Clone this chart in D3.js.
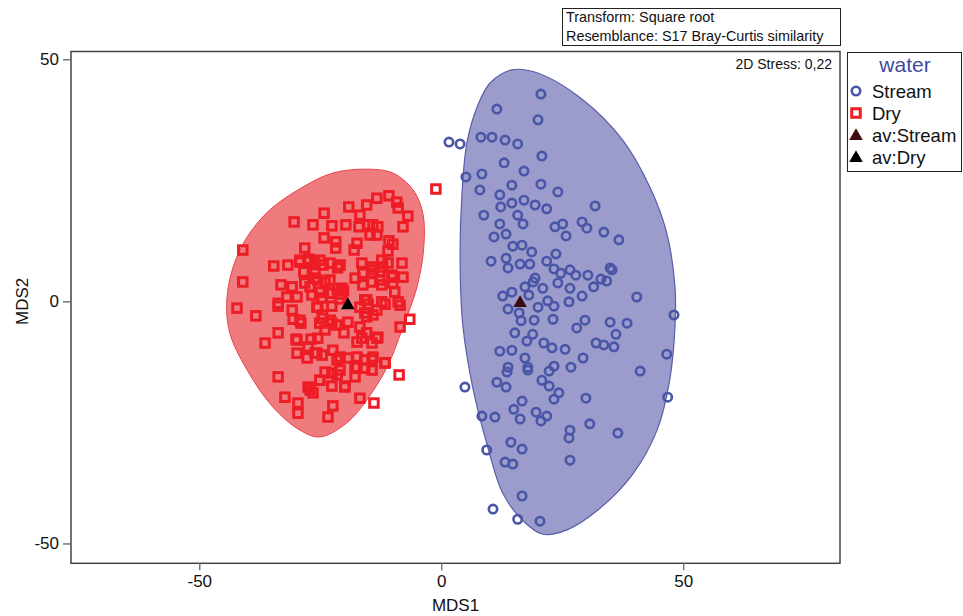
<!DOCTYPE html>
<html>
<head>
<meta charset="utf-8">
<script src="https://cdn.jsdelivr.net/npm/d3@7"></script>
<style>
  body { margin: 0; background: #fff; }
  svg { font-family: Arial, "Liberation Sans", sans-serif; }
</style>
</head>
<body>
<svg id="chart" width="963" height="616"></svg>
<script>
// MDS ordination, water groups
const streamPoints = [
  [20.6,42.8],[11.5,39.7],[20.0,37.5],[1.6,32.9],[3.9,32.5],[8.2,33.9],[10.5,33.9],[13.2,33.3],[15.8,32.5],
  [20.8,30.0],[13.0,28.6],[17.1,26.9],[5.1,25.7],[8.4,26.3],[14.6,24.0],[20.6,24.2],[24.1,22.6],[8.0,23.0],
  [12.1,22.0],[12.3,19.5],[14.6,20.3],[17.1,20.9],[19.4,19.9],[21.8,19.1],[31.8,19.7],[8.8,17.8],[15.8,17.8],
  [12.1,16.0],[16.9,16.0],[23.5,15.4],[25.1,16.0],[29.1,16.4],[30.1,15.1],[33.6,14.3],[10.9,13.3],[13.4,13.9],
  [25.8,13.5],[36.7,12.7],[14.8,11.4],[16.7,11.6],[18.7,10.2],[10.3,8.3],[13.4,8.9],[13.8,6.9],[16.3,7.7],
  [18.3,7.7],[21.8,8.3],[23.7,9.8],[23.3,6.7],[24.7,5.8],[26.6,6.5],[27.8,5.4],[30.3,5.4],[33.0,4.6],[34.2,4.2],
  [34.9,6.9],[35.3,6.5],[19.4,4.8],[24.1,3.8],[17.3,3.0],[21.0,2.7],[26.6,2.7],[31.5,3.0],[12.7,1.1],[14.6,1.9],
  [18.1,1.3],[22.0,0.1],[23.3,-1.0],[20.0,-1.2],[26.4,-0.1],[29.1,1.1],[40.4,0.9],[13.8,-1.6],[16.1,-2.4],
  [23.1,-3.7],[48.1,-2.8],[28.0,-5.5],[29.7,-3.9],[34.9,-4.3],[38.4,-4.5],[15.2,-6.5],[18.9,-6.8],[36.1,-6.8],
  [17.7,-8.2],[21.2,-8.6],[22.9,-9.6],[25.6,-9.9],[32.0,-8.6],[33.6,-9.0],[35.7,-9.4],[12.1,-10.3],[14.6,-10.1],
  [17.3,-11.7],[29.3,-11.7],[46.6,-10.9],[13.8,-13.6],[17.9,-13.6],[23.3,-13.4],[26.8,-13.6],[41.1,-14.4],
  [13.6,-14.6],[22.3,-14.4],[17.9,-14.2],[4.9,-17.7],[11.5,-16.7],[13.4,-17.7],[20.8,-16.3],[22.3,-17.5],
  [24.3,-18.9],[23.3,-20.2],[29.9,-20.0],[46.8,-19.8],[16.7,-20.6],[15.0,-22.3],[8.4,-23.7],[11.1,-23.9],
  [16.3,-24.3],[19.6,-22.9],[20.6,-24.7],[21.8,-23.7],[30.7,-25.3],[36.5,-27.2],[26.6,-26.6],[26.4,-28.2],
  [14.4,-29.1],[16.7,-30.5],[9.4,-30.7],[13.2,-33.2],[14.8,-33.6],[26.6,-32.8],[16.7,-40.2],[10.7,-42.9],
  [15.8,-45.0],[20.4,-45.4],[19.2,-3.9],[16.5,-4.0],[19.0,4.0]
];

const dryPoints = [
  [-41.0,10.6],[-41.0,4.0],[-30.4,16.4],[-26.5,15.8],[-24.2,18.2],[-22.6,15.6],[-24.2,13.1],[-21.8,12.3],
  [-21.8,11.0],[-28.2,11.0],[-19.1,19.5],[-19.7,15.8],[-16.8,17.8],[-17.0,15.4],[-15.4,19.9],[-13.3,21.3],
  [-10.8,21.8],[-9.2,20.5],[-8.9,19.3],[-6.9,17.6],[-7.9,15.4],[-15.1,15.8],[-14.1,15.8],[-13.1,15.4],
  [-14.7,13.7],[-13.3,13.7],[-17.4,12.0],[-18.0,10.6],[-10.8,12.5],[-10.0,11.8],[-11.0,10.4],[-34.6,7.3],
  [-31.7,7.5],[-29.2,8.1],[-27.5,8.3],[-26.1,7.9],[-24.4,7.5],[-23.0,7.9],[-20.9,7.5],[-28.4,6.1],[-26.1,5.8],
  [-16.4,7.9],[-14.3,7.1],[-12.3,8.5],[-11.0,7.9],[-8.1,7.9],[-7.9,5.0],[-10.2,5.4],[-12.7,6.1],[-14.3,5.8],
  [-16.2,5.8],[-17.8,4.8],[-33.1,3.4],[-30.8,3.0],[-28.2,3.8],[-26.1,4.8],[-24.0,4.0],[-20.5,2.7],[-22.6,1.7],
  [-16.2,3.4],[-14.3,4.0],[-12.3,3.4],[-10.0,3.8],[-9.6,1.9],[-31.9,0.9],[-29.8,0.9],[-26.7,1.3],[-24.6,0.7],
  [-33.7,-0.4],[-15.8,0.3],[-12.3,-0.1],[-8.9,-0.1],[-42.2,-1.4],[-38.3,-3.0],[-33.7,-1.0],[-30.8,-1.8],
  [-30.6,-3.7],[-29.0,-4.5],[-25.5,-1.2],[-22.6,-1.0],[-24.6,-3.5],[-22.6,-4.5],[-24.0,-5.9],[-26.9,-7.8],
  [-25.5,-7.6],[-33.7,-6.5],[-36.4,-8.6],[-30.0,-7.8],[-20.1,-6.5],[-19.3,-4.3],[-15.8,-2.4],[-14.1,-2.8],
  [-15.1,-0.6],[-11.6,-0.6],[-8.5,-0.8],[-6.5,-3.7],[-8.5,-5.3],[-16.8,-5.3],[-16.4,-7.6],[-14.3,-8.6],
  [-13.1,-7.4],[-29.8,-10.7],[-27.7,-11.7],[-26.1,-10.7],[-24.6,-11.1],[-22.4,-10.1],[-21.5,-12.1],[-19.3,-11.7],
  [-17.4,-11.5],[-15.8,-12.1],[-14.1,-11.5],[-11.6,-12.7],[-17.8,-13.6],[-15.8,-13.8],[-14.3,-14.2],[-20.9,-14.2],
  [-24.0,-14.6],[-8.7,-15.2],[-33.7,-15.6],[-25.1,-16.3],[-21.5,-15.2],[-17.8,-15.6],[-27.5,-17.7],[-26.5,-18.9],
  [-22.6,-17.5],[-19.9,-17.5],[-32.3,-19.8],[-29.6,-21.0],[-29.6,-23.1],[-22.4,-21.6],[-23.4,-23.9],[-16.8,-20.0],
  [-13.9,-21.0],[-1.1,23.2],
  [-29.2,8.5],[-27.3,8.7],[-25.1,8.5],[-21.4,6.9],[-23.0,4.4],[-25.5,4.4],[-27.1,3.0],[-25.1,1.9],[-23.0,1.7],
  [-25.7,-1.2],[-24.5,-2.8],[-22.9,-3.9],[-25.1,-4.5],[-21.6,-4.9],[-29.2,-3.9],[-29.8,-8.0],[-27.5,-9.4],
  [-25.7,-10.7],[-17.4,-8.4],[-15.4,-6.5],[-13.3,-7.6],[-15.4,-3.2],[-16.8,-1.2],[-13.3,-1.8],[-15.4,0.3],
  [-14.1,6.5],[-12.1,7.1],[-12.7,4.4],[-10.0,5.0],[-20.9,-11.5],[-17.4,-13.6],[-14.3,-12.1],[-11.6,-12.7],
  [-22.6,-14.8],[-19.9,-17.7],[-25.1,-16.3],[-27.1,-18.3],[-21.5,2.5],[-20.5,1.5],[-21.0,0.5],[-20.2,2.2]
];

// group averages
const averages = [
  { name: "av:Stream", x: 16.3, y: -0.35, color: "#3d0c10" },
  { name: "av:Dry", x: -19.3, y: -0.8, color: "#000000" }
];

// outlines of the group overlays (data units)
const streamOutline = [
  [14.6,47.8],[19.8,47.2],[29.3,41.6],[37.5,33.3],[43.1,23.6],[46.6,14.1],[48.3,3.0],[48.3,-5.3],[47.2,-16.3],
  [44.6,-26.6],[39.5,-35.8],[32.5,-43.0],[26.0,-47.2],[21.0,-48.1],[16.8,-45.2],[12.7,-39.6],[9.4,-29.3],
  [6.5,-17.7],[4.5,-5.3],[3.9,8.5],[4.3,22.4],[5.3,32.7],[7.4,40.1],[10.1,45.1]
];
const dryOutline = [
  [-15.4,27.3],[-10.0,26.5],[-5.8,23.0],[-3.8,18.2],[-3.6,11.2],[-5.0,3.0],[-7.9,-5.3],[-11.2,-13.6],
  [-15.4,-20.4],[-19.5,-25.1],[-25.1,-28.0],[-29.2,-26.6],[-34.8,-21.8],[-40.1,-14.2],[-43.7,-6.5],
  [-44.3,0.3],[-43.0,7.1],[-40.1,13.3],[-35.4,18.9],[-28.6,23.6],[-22.4,26.5]
];

const xTicks = [-50, 0, 50];
const yTicks = [-50, 0, 50];
const legendItems = ["Stream", "Dry", "av:Stream", "av:Dry"];
const headerLines = ["Transform: Square root", "Resemblance: S17 Bray-Curtis similarity"];
const stressLabel = "2D Stress: 0,22";

const colors = {
  stream: "#4955a6",
  streamFill: "#9b9bcc",
  streamEdge: "#5a5ea8",
  dry: "#ee1c25",
  dryFill: "#f07b7e",
  dryEdge: "#e8444b"
};

const svg = d3.select("#chart");
const plot = { left: 71, right: 840, top: 51.5, bottom: 563.3 };

const x = d3.scaleLinear().domain([-76.5, 82.4]).range([plot.left, plot.right]);
const y = d3.scaleLinear().domain([-54.1, 51.6]).range([plot.bottom, plot.top]);

// overlays
const outline = d3.line()
  .x(d => x(d[0]))
  .y(d => y(d[1]))
  .curve(d3.curveCatmullRomClosed.alpha(0.5));

svg.append("path")
  .attr("d", outline(dryOutline))
  .attr("fill", colors.dryFill)
  .attr("stroke", colors.dryEdge)
  .attr("stroke-width", 1);

svg.append("path")
  .attr("d", outline(streamOutline))
  .attr("fill", colors.streamFill)
  .attr("stroke", colors.streamEdge)
  .attr("stroke-width", 1.2);

// points
svg.append("g").selectAll("circle")
  .data(streamPoints).enter()
  .append("circle")
  .attr("cx", d => x(d[0]))
  .attr("cy", d => y(d[1]))
  .attr("r", 4.2)
  .attr("fill", "none")
  .attr("stroke", colors.stream)
  .attr("stroke-width", 2.6);

svg.append("g").selectAll("rect")
  .data(dryPoints).enter()
  .append("rect")
  .attr("x", d => x(d[0]) - 4.25)
  .attr("y", d => y(d[1]) - 4.25)
  .attr("width", 8.5)
  .attr("height", 8.5)
  .attr("fill", "none")
  .attr("stroke", colors.dry)
  .attr("stroke-width", 3);

const tri = d3.symbol().type(d3.symbolTriangle).size(80);

svg.append("g").selectAll("path")
  .data(averages).enter()
  .append("path")
  .attr("d", tri)
  .attr("transform", d => `translate(${x(d.x)},${y(d.y)})`)
  .attr("fill", d => d.color);

// frame + axes
svg.append("rect")
  .attr("x", plot.left)
  .attr("y", plot.top)
  .attr("width", plot.right - plot.left)
  .attr("height", plot.bottom - plot.top)
  .attr("fill", "none")
  .attr("stroke", "#444")
  .attr("stroke-width", 1.5);

const xAxis = svg.append("g")
  .attr("transform", `translate(0,${plot.bottom})`)
  .call(d3.axisBottom(x).tickValues(xTicks).tickSize(7).tickPadding(5).tickFormat(d3.format("d")));
const yAxis = svg.append("g")
  .attr("transform", `translate(${plot.left},0)`)
  .call(d3.axisLeft(y).tickValues(yTicks).tickSize(8).tickPadding(4).tickFormat(d3.format("d")));

[xAxis, yAxis].forEach(a => {
  a.select(".domain").remove();
  a.selectAll(".tick line").attr("stroke", "#777").attr("stroke-width", 1.5);
  a.selectAll(".tick text")
    .attr("fill", "#111")
    .style("font-family", "Arial, 'Liberation Sans', sans-serif")
    .style("font-size", "17px");
});
// d3 uses a minus sign, the reference a hyphen
xAxis.selectAll(".tick text").text(d => String(d));
yAxis.selectAll(".tick text").text(d => String(d));

svg.append("text")
  .attr("x", (plot.left + plot.right) / 2)
  .attr("y", 611)
  .attr("text-anchor", "middle")
  .attr("font-size", 17)
  .attr("fill", "#111")
  .text("MDS1");

svg.append("text")
  .attr("transform", `translate(28,${y(0)}) rotate(-90)`)
  .attr("text-anchor", "middle")
  .attr("font-size", 17)
  .attr("fill", "#111")
  .text("MDS2");

svg.append("text")
  .attr("x", 832)
  .attr("y", 69)
  .attr("text-anchor", "end")
  .attr("font-size", 14)
  .attr("fill", "#111")
  .text(stressLabel);

// header box
svg.append("rect")
  .attr("x", 562.5).attr("y", 8.5)
  .attr("width", 278).attr("height", 37)
  .attr("fill", "#fff")
  .attr("stroke", "#222");

svg.append("g").selectAll("text")
  .data(headerLines).enter()
  .append("text")
  .attr("x", 566)
  .attr("y", (d, i) => 22 + i * 18.5)
  .attr("font-size", 14.4)
  .attr("fill", "#111")
  .text(d => d);

// legend
const legend = svg.append("g");
legend.append("rect")
  .attr("x", 847.5).attr("y", 52.5)
  .attr("width", 114).attr("height", 119)
  .attr("fill", "#fff")
  .attr("stroke", "#222");

legend.append("text")
  .attr("x", 905)
  .attr("y", 72)
  .attr("text-anchor", "middle")
  .attr("font-size", 21)
  .attr("fill", "#3f4ba0")
  .text("water");

const rowY = d3.scalePoint().domain(legendItems).range([91, 157]);

legend.append("circle")
  .attr("cx", 856).attr("cy", rowY("Stream"))
  .attr("r", 4.2).attr("fill", "none")
  .attr("stroke", colors.stream).attr("stroke-width", 2.6);
legend.append("rect")
  .attr("x", 851.75).attr("y", rowY("Dry") - 4.25)
  .attr("width", 8.5).attr("height", 8.5)
  .attr("fill", "none").attr("stroke", colors.dry).attr("stroke-width", 3);
averages.forEach(a => {
  legend.append("path")
    .attr("d", tri)
    .attr("transform", `translate(856,${rowY(a.name) + 1})`)
    .attr("fill", a.color);
});

legend.selectAll("text.item")
  .data(legendItems).enter()
  .append("text")
  .attr("class", "item")
  .attr("x", 872)
  .attr("y", d => rowY(d) + 6.5)
  .attr("font-size", 18.5)
  .attr("fill", "#111")
  .text(d => d);
</script>
</body>
</html>
